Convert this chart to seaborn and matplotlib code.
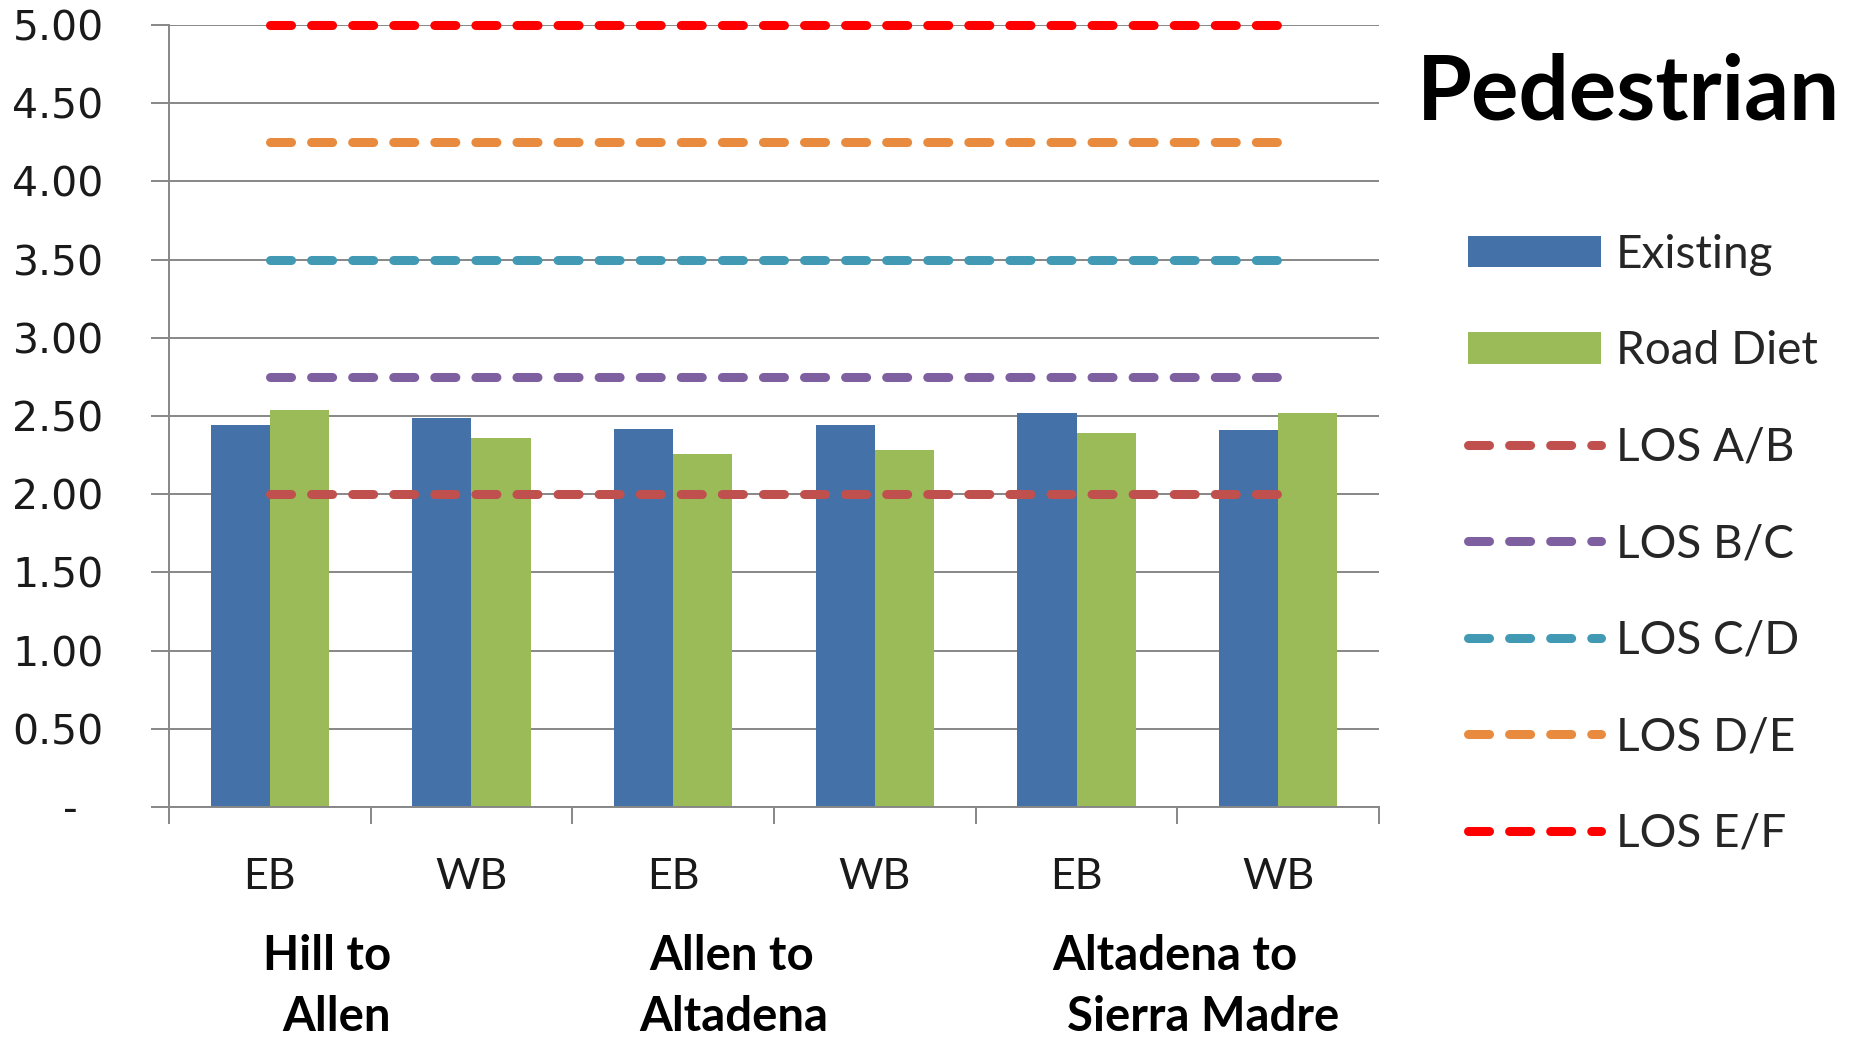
import numpy as np
import pandas as pd
import matplotlib
matplotlib.use("Agg")
import matplotlib.pyplot as plt
import seaborn as sns
from matplotlib.patches import Patch
from matplotlib.transforms import blended_transform_factory

# ---------------- data ----------------
directions = ["EB", "WB", "EB", "WB", "EB", "WB"]
segments = ["Hill to Allen", "Hill to Allen",
            "Allen to Altadena", "Allen to Altadena",
            "Altadena to Sierra Madre", "Altadena to Sierra Madre"]
existing = [2.44, 2.49, 2.42, 2.44, 2.52, 2.41]
road_diet = [2.54, 2.36, 2.26, 2.28, 2.39, 2.52]
series_names = ["Existing", "Road Diet"]
los_labels = ["LOS A/B", "LOS B/C", "LOS C/D", "LOS D/E", "LOS E/F"]
los_values = [2.00, 2.75, 3.50, 4.25, 5.00]
group_line1 = ["Hill to", "Allen to", "Altadena to"]
group_line2 = ["Allen", "Altadena", "Sierra Madre"]
ytick_values = [0.0, 0.5, 1.0, 1.5, 2.0, 2.5, 3.0, 3.5, 4.0, 4.5, 5.0]
ytick_labels = ["-  ", "0.50", "1.00", "1.50", "2.00", "2.50", "3.00",
                "3.50", "4.00", "4.50", "5.00"]
title_text = "Pedestrian"

# ---------------- style ----------------
bar_colors = ["#4472A8", "#9BBB59"]
los_colors = ["#C0504D", "#7E60A0", "#4199B4", "#E88B3E", "#FF0000"]
grey = "#878787"

sns.set_theme(style="white")
plt.rcParams["font.family"] = ["Lato", "DejaVu Sans"]

keys = [f"{s} {d}" for s, d in zip(segments, directions)]
df = pd.DataFrame({
    "key": keys * 2,
    "series": [series_names[0]] * len(keys) + [series_names[1]] * len(keys),
    "value": existing + road_diet,
})

fig = plt.figure(figsize=(18.53, 10.39), dpi=100)
ax = fig.add_axes([0.0912, 0.2233, 0.653, 0.7526])

sns.barplot(data=df, x="key", y="value", hue="series", order=keys,
            hue_order=series_names, palette=bar_colors, width=0.586,
            gap=0, saturation=1, legend=False, ax=ax, linewidth=0, zorder=2)

xpos = np.arange(len(keys))
line_handles = []
for lab, val, col in zip(los_labels, los_values, los_colors):
    ln, = ax.plot(xpos, [val] * len(xpos), color=col, lw=6.5,
                  linestyle=(0, (2.33, 2.22)), dash_capstyle="round",
                  clip_on=False, zorder=4, label=lab)
    line_handles.append(ln)

ax.set_xlim(-0.5, len(keys) - 0.5)
ax.set_ylim(0, 5)
ax.set_xlabel("")
ax.set_ylabel("")

# y axis
ax.set_yticks(ytick_values)
ax.set_yticklabels(ytick_labels, fontfamily="DejaVu Sans", fontsize=29.5,
                   color="#1a1a1a")
ax.tick_params(axis="y", direction="out", length=13, width=1.4, color=grey,
               pad=34, left=True)
ax.yaxis.grid(True, color=grey, lw=1.4)
ax.xaxis.grid(False)
ax.set_axisbelow(True)

# x axis
ax.set_xticks(xpos)
ax.set_xticklabels(directions, fontsize=31, color="#1a1a1a")
ax.tick_params(axis="x", which="major", length=0, pad=37)
ax.set_xticks(np.arange(-0.5, len(keys), 1.0), minor=True)
ax.tick_params(axis="x", which="minor", direction="out", length=12,
               width=1.4, color=grey, bottom=True)

for s in ["top", "right"]:
    ax.spines[s].set_visible(False)
for s in ["left", "bottom"]:
    ax.spines[s].set_color(grey)
    ax.spines[s].set_linewidth(1.4)

# group labels
trans = blended_transform_factory(ax.transData, fig.transFigure)
for x, t in zip([0.286, 2.289, 4.49], group_line1):
    ax.text(x, 0.0660, t, transform=trans, ha="center", va="baseline",
            fontsize=34, fontweight="bold", color="black")
for x, t in zip([0.332, 2.30, 4.63], group_line2):
    ax.text(x, 0.0080, t, transform=trans, ha="center", va="baseline",
            fontsize=34, fontweight="bold", color="black")

# title
fig.text(0.8786, 1 - 120 / 1039, title_text, ha="center", va="baseline",
         fontsize=64, fontweight="bold", color="black")

# legend
handles = [Patch(facecolor=c, edgecolor="none") for c in bar_colors] + line_handles
labels = series_names + los_labels
ax.legend(handles, labels, loc="upper left",
          bbox_to_anchor=(1468 / 1853, 0.7752),
          bbox_transform=fig.transFigure, frameon=False,
          prop={"family": "Lato", "size": 33},
          handlelength=2.9, handleheight=0.68, handletextpad=0.33,
          labelspacing=1.19, borderpad=0, borderaxespad=0)

fig.savefig("out.png", dpi=100)
